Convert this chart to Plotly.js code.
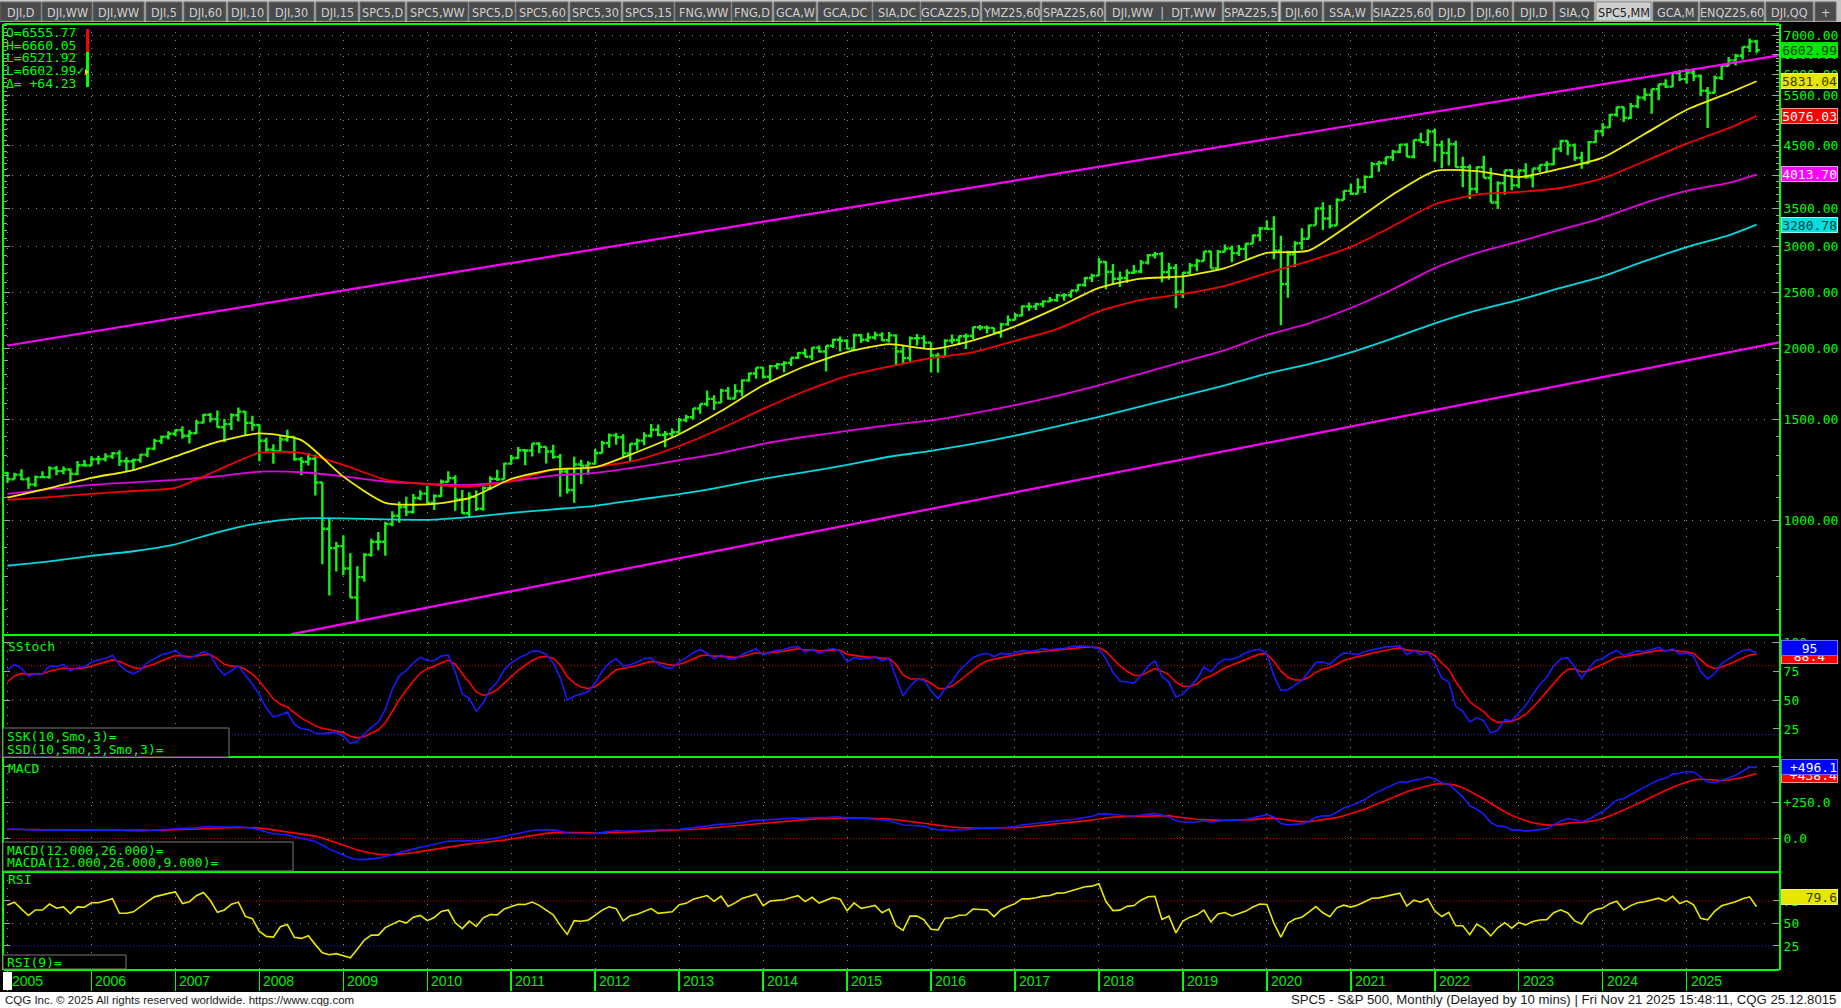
<!DOCTYPE html>
<html><head><meta charset="utf-8">
<script src="https://cdn.plot.ly/plotly-3.0.1.min.js"></script>
<style>html,body{margin:0;padding:0;background:#000;overflow:hidden}#chart{width:1841px;height:1008px}</style>
</head><body><div id="chart"></div>
<script>
// ---------------- DATA: S&P 500 monthly, Jan 2005 .. Nov 2025 ----------------
const OPEN = [
1211.92,1181.27,1203.60,1180.59,1156.85,1191.50,1191.33,1234.18,1220.33,1228.81,1207.01,1249.48,
1248.29,1280.08,1280.66,1294.83,1310.61,1270.09,1270.20,1276.66,1303.82,1335.85,1377.94,1400.63,
1418.30,1438.24,1406.82,1420.86,1482.37,1530.62,1503.35,1455.27,1473.99,1526.75,1549.38,1481.14,
1468.36,1378.55,1330.63,1322.70,1385.59,1400.38,1280.00,1267.38,1282.83,1166.36,968.75,896.24,
903.25,825.88,735.09,797.87,872.81,919.14,919.32,987.48,1020.62,1057.08,1036.19,1095.63,
1115.10,1073.87,1104.49,1169.43,1186.69,1089.41,1030.71,1101.60,1049.33,1141.20,1183.26,1180.55,
1257.64,1286.12,1327.22,1325.83,1363.61,1345.20,1320.64,1292.28,1218.89,1131.42,1253.30,1246.96,
1257.60,1312.41,1365.68,1408.47,1397.91,1310.33,1362.16,1379.32,1406.58,1440.67,1412.16,1416.18,
1426.19,1498.11,1514.68,1569.19,1597.57,1630.74,1606.28,1685.73,1632.97,1681.55,1756.54,1805.81,
1848.36,1782.59,1859.45,1872.34,1883.95,1923.57,1960.23,1930.67,2003.37,1972.29,2018.05,2067.56,
2058.90,1994.99,2104.50,2067.89,2085.51,2107.39,2063.11,2103.84,1972.18,1920.03,2079.36,2080.41,
2043.94,1940.24,1932.23,2059.74,2065.30,2096.95,2098.86,2173.60,2170.95,2168.27,2126.15,2198.81,
2238.83,2278.87,2363.64,2362.72,2384.20,2411.80,2423.41,2470.30,2471.65,2519.36,2575.26,2647.58,
2673.61,2823.81,2713.83,2640.87,2648.05,2705.27,2718.37,2816.29,2901.52,2913.98,2711.74,2760.17,
2506.85,2704.10,2784.49,2834.40,2945.83,2752.06,2941.76,2980.38,2926.46,2976.74,3037.56,3140.98,
3230.78,3225.52,2954.22,2584.59,2912.43,3044.31,3100.29,3271.12,3500.31,3363.00,3269.96,3621.63,
3756.07,3714.24,3811.15,3972.89,4181.17,4204.11,4297.50,4395.26,4522.68,4307.54,4605.38,4567.00,
4766.18,4515.55,4373.94,4530.41,4131.93,4132.15,3785.38,4130.29,3955.00,3585.62,3871.98,4080.11,
3839.50,4076.60,3970.15,4109.31,4169.48,4179.83,4450.38,4588.96,4507.66,4288.05,4193.80,4567.80,
4769.83,4845.65,5096.27,5254.35,5035.69,5277.51,5460.48,5522.30,5648.40,5762.48,5705.45,6032.38,
5881.63,6040.53,5954.50,5611.85,5569.06,5911.69,6204.95,6339.39,6460.26,6688.46,6840.20];
const HIGH = [
1217.80,1212.40,1229.11,1192.16,1199.56,1219.59,1245.15,1245.86,1243.13,1233.34,1270.64,1275.80,
1294.90,1297.57,1310.88,1318.16,1326.70,1290.68,1283.42,1307.36,1340.28,1389.45,1407.89,1431.81,
1441.61,1461.57,1438.89,1498.02,1535.56,1540.56,1555.90,1503.89,1538.74,1576.09,1552.76,1523.57,
1471.77,1396.02,1359.68,1404.57,1440.24,1404.05,1292.17,1313.15,1303.04,1167.03,1007.51,918.85,
943.85,877.86,832.98,877.96,930.17,956.23,996.68,1039.47,1080.15,1101.36,1113.69,1130.38,
1150.45,1112.42,1180.16,1219.80,1200.00,1131.23,1120.95,1129.24,1148.90,1196.14,1227.08,1262.60,
1302.67,1344.07,1332.28,1364.56,1370.58,1345.20,1356.48,1307.38,1229.29,1292.66,1277.55,1269.37,
1333.47,1378.04,1419.15,1422.38,1415.32,1363.46,1391.74,1426.68,1474.51,1470.96,1434.27,1448.00,
1509.94,1530.94,1570.28,1597.57,1687.18,1654.19,1698.78,1709.67,1729.86,1765.00,1813.55,1849.44,
1850.84,1867.92,1883.97,1897.28,1924.03,1968.17,1991.39,2005.04,2019.26,2018.19,2075.76,2093.55,
2072.36,2119.59,2117.52,2125.92,2134.72,2129.87,2132.82,2112.66,2020.86,2094.32,2116.48,2104.27,
2043.94,1962.96,2072.21,2111.05,2103.48,2120.55,2177.09,2193.81,2187.87,2169.60,2214.10,2277.53,
2300.99,2371.54,2400.98,2398.16,2418.71,2453.82,2484.04,2490.87,2519.44,2582.98,2657.74,2694.97,
2872.87,2835.96,2801.90,2717.49,2742.24,2791.47,2848.03,2916.50,2940.91,2939.86,2815.15,2800.18,
2708.95,2813.49,2860.31,2949.52,2954.13,2964.15,3027.98,3013.59,3021.99,3050.10,3154.26,3247.93,
3337.77,3393.52,3136.72,2954.86,3068.67,3233.13,3279.99,3514.77,3588.11,3549.85,3645.99,3760.20,
3870.90,3950.43,3994.41,4218.78,4238.04,4302.43,4429.97,4537.36,4545.85,4608.08,4743.83,4808.93,
4818.62,4595.31,4637.30,4593.45,4307.66,4177.51,4140.15,4325.28,4119.28,3905.42,4080.11,4100.96,
4094.21,4195.44,4110.75,4170.06,4231.10,4458.48,4607.07,4588.96,4541.25,4393.57,4587.64,4793.30,
4931.09,5111.06,5264.85,5263.95,5341.88,5505.53,5669.67,5651.62,5767.37,5878.46,6044.17,6099.97,
6128.18,6147.43,5986.09,5695.31,5968.61,6215.08,6427.02,6508.23,6699.52,6920.34,6890.00];
const LOW = [
1163.75,1180.95,1176.92,1136.15,1146.18,1188.78,1183.55,1201.07,1205.35,1168.20,1201.07,1246.59,
1245.74,1253.61,1268.42,1280.74,1245.34,1219.29,1224.54,1262.79,1290.93,1327.10,1360.98,1385.93,
1403.97,1389.10,1363.98,1416.37,1476.70,1484.18,1454.25,1370.60,1439.29,1489.56,1406.10,1435.65,
1270.05,1316.75,1256.98,1320.00,1373.07,1272.00,1200.44,1248.64,1106.39,839.80,741.02,815.69,
804.30,734.52,666.79,783.32,866.10,888.86,869.32,978.51,991.97,1019.95,1029.38,1085.89,
1071.59,1044.50,1101.36,1166.74,1040.78,1028.33,1010.91,1039.70,1041.07,1131.87,1173.00,1180.55,
1257.62,1282.86,1249.05,1294.70,1311.80,1258.07,1282.86,1101.54,1114.22,1074.77,1158.66,1202.37,
1257.60,1312.41,1340.03,1357.38,1291.98,1266.74,1325.41,1354.65,1396.56,1403.28,1343.35,1398.11,
1426.19,1485.01,1501.48,1536.03,1581.28,1560.33,1604.57,1627.47,1632.97,1646.47,1746.20,1767.99,
1770.45,1737.92,1834.44,1814.36,1859.79,1915.98,1930.67,1904.78,1964.04,1820.66,2001.01,1972.56,
1988.12,1980.90,2039.69,2048.38,2067.93,2056.32,2044.02,1867.01,1871.91,1893.70,2019.39,1993.26,
1812.29,1810.10,1931.81,2033.80,2025.91,1991.68,2074.02,2147.58,2119.12,2114.72,2083.79,2187.44,
2233.62,2271.65,2322.25,2328.95,2352.72,2405.70,2407.70,2417.35,2446.55,2519.36,2557.45,2605.52,
2673.61,2532.69,2585.89,2553.80,2594.62,2691.99,2698.95,2796.34,2864.12,2603.54,2631.09,2346.58,
2443.96,2681.83,2722.27,2834.40,2750.52,2728.81,2941.76,2822.12,2891.85,2855.94,3037.56,3070.33,
3214.64,2855.84,2191.86,2447.49,2766.64,2965.66,3100.29,3271.12,3209.45,3233.94,3269.96,3621.63,
3694.12,3714.24,3723.34,3955.50,4056.88,4164.40,4233.13,4367.73,4305.91,4278.94,4560.00,4495.12,
4222.62,4114.65,4157.87,4124.28,3810.32,3636.87,3721.56,3954.53,3584.13,3491.58,3698.15,3764.49,
3794.33,3943.08,3808.86,4049.35,4048.28,4166.15,4385.05,4335.31,4238.63,4103.78,4193.80,4546.50,
4682.11,4845.65,5056.82,4953.56,5011.05,5234.32,5390.95,5119.26,5402.62,5674.00,5696.51,5832.30,
5773.31,5837.66,5488.73,4835.04,5558.52,5861.43,6201.49,6212.69,6360.58,6550.78,6521.92];
const CLOSE = [
1181.27,1203.60,1180.59,1156.85,1191.50,1191.33,1234.18,1220.33,1228.81,1207.01,1249.48,1248.29,
1280.08,1280.66,1294.83,1310.61,1270.09,1270.20,1276.66,1303.82,1335.85,1377.94,1400.63,1418.30,
1438.24,1406.82,1420.86,1482.37,1530.62,1503.35,1455.27,1473.99,1526.75,1549.38,1481.14,1468.36,
1378.55,1330.63,1322.70,1385.59,1400.38,1280.00,1267.38,1282.83,1166.36,968.75,896.24,903.25,
825.88,735.09,797.87,872.81,919.14,919.32,987.48,1020.62,1057.08,1036.19,1095.63,1115.10,
1073.87,1104.49,1169.43,1186.69,1089.41,1030.71,1101.60,1049.33,1141.20,1183.26,1180.55,1257.64,
1286.12,1327.22,1325.83,1363.61,1345.20,1320.64,1292.28,1218.89,1131.42,1253.30,1246.96,1257.60,
1312.41,1365.68,1408.47,1397.91,1310.33,1362.16,1379.32,1406.58,1440.67,1412.16,1416.18,1426.19,
1498.11,1514.68,1569.19,1597.57,1630.74,1606.28,1685.73,1632.97,1681.55,1756.54,1805.81,1848.36,
1782.59,1859.45,1872.34,1883.95,1923.57,1960.23,1930.67,2003.37,1972.29,2018.05,2067.56,2058.90,
1994.99,2104.50,2067.89,2085.51,2107.39,2063.11,2103.84,1972.18,1920.03,2079.36,2080.41,2043.94,
1940.24,1932.23,2059.74,2065.30,2096.95,2098.86,2173.60,2170.95,2168.27,2126.15,2198.81,2238.83,
2278.87,2363.64,2362.72,2384.20,2411.80,2423.41,2470.30,2471.65,2519.36,2575.26,2647.58,2673.61,
2823.81,2713.83,2640.87,2648.05,2705.27,2718.37,2816.29,2901.52,2913.98,2711.74,2760.17,2506.85,
2704.10,2784.49,2834.40,2945.83,2752.06,2941.76,2980.38,2926.46,2976.74,3037.56,3140.98,3230.78,
3225.52,2954.22,2584.59,2912.43,3044.31,3100.29,3271.12,3500.31,3363.00,3269.96,3621.63,3756.07,
3714.24,3811.15,3972.89,4181.17,4204.11,4297.50,4395.26,4522.68,4307.54,4605.38,4567.00,4766.18,
4515.55,4373.94,4530.41,4131.93,4132.15,3785.38,4130.29,3955.00,3585.62,3871.98,4080.11,3839.50,
4076.60,3970.15,4109.31,4169.48,4179.83,4450.38,4588.96,4507.66,4288.05,4193.80,4567.80,4769.83,
4845.65,5096.27,5254.35,5035.69,5277.51,5460.48,5522.30,5648.40,5762.48,5705.45,6032.38,5881.63,
6040.53,5954.50,5611.85,5569.06,5911.69,6204.95,6339.39,6460.26,6688.46,6840.20,6602.99];

// warm-up history (not drawn) used only to seed the indicators
const PRE_CLOSE = [855.70,841.15,848.18,916.92,963.59,974.50,990.31,1008.01,995.97,1050.71,1058.20,1111.92,
1131.13,1144.94,1126.21,1107.30,1120.68,1140.84,1101.72,1104.24,1114.58,1130.20,1173.82,1211.92];
const PRE_HIGH = [1155.38,1158.98,1163.23,1150.57,1127.74,1146.34,1140.84,1109.68,1131.54,1142.05,1188.46,1217.33];
const PRE_LOW  = [1122.38,1124.44,1087.16,1107.23,1076.32,1113.32,1078.78,1060.72,1101.29,1090.19,1127.60,1173.82];

// moving averages (month index from Jan 2005)
const MA_IDX = [0,6,12,18,24,30,36,42,48,54,60,66,72,78,84,90,96,102,108,114,120,126,132,138,144,150,156,162,168,174,180,186,192,198,204,210,216,222,228,234,240,246,250];
const MA_YELLOW = [1097,1140,1188,1226,1295,1372,1420,1382,1194,1075,1068,1095,1183,1228,1240,1318,1415,1553,1722,1859,1967,2031,1992,2063,2182,2349,2545,2641,2665,2756,2929,2957,3291,3702,4067,4067,3969,4105,4292,4720,5200,5560,5831.04];
const MA_RED    = [1088,1100,1114,1127,1141,1225,1313,1313,1251,1180,1158,1146,1172,1228,1241,1276,1350,1448,1567,1683,1787,1856,1920,1965,2058,2158,2317,2425,2484,2567,2701,2833,3000,3260,3560,3700,3740,3800,3950,4230,4540,4830,5076.03];
const MA_MAGENTA= [1114,1135,1155,1167,1178,1195,1218,1215,1195,1170,1160,1155,1172,1199,1212,1240,1275,1312,1362,1401,1434,1468,1496,1539,1590,1651,1722,1805,1892,1983,2107,2208,2348,2532,2755,2929,3065,3215,3372,3580,3757,3878,4013.70];
const MA_CYAN   = [835,850,869,885,910,955,991,1010,1010,1006,1004,1015,1032,1047,1062,1088,1113,1145,1183,1216,1251,1293,1324,1362,1407,1461,1517,1583,1651,1722,1805,1874,1965,2079,2208,2326,2425,2545,2666,2833,2997,3142,3280.78];

// channel trend lines (month index, price)
const CH_UPPER_X = [0, 253.4], CH_UPPER_Y = [2020, 6474];
const CH_LOWER_X = [40.5, 253.4], CH_LOWER_Y = [634, 2047];

// last values printed in the right-hand boxes of the indicator panels
const SSTOCH_LAST = [95, 88.4];      // SSK, SSD
const MACD_LAST   = [496.1, 438.4];  // MACD, MACDA
const RSI_LAST    = [79.6];

const YEAR_LABELS = ['2005','2006','2007','2008','2009','2010','2011','2012','2013','2014','2015','2016','2017','2018','2019','2020','2021','2022','2023','2024','2025'];
const PRICE_TICKS = [1000,1500,2000,2500,3000,3500,4000,4500,5000,5500,6000,6500,7000];
const HEADER_LINES = ['O=6555.77','H=6660.05','L=6521.92','L=6602.99\u2713','\u0394= +64.23'];
const TAB_LABELS = ['DJI,D','DJI,WW','DJI,WW','DJI,5','DJI,60','DJI,10','DJI,30','DJI,15','SPC5,D','SPC5,WW','SPC5,D','SPC5,60','SPC5,30','SPC5,15','FNG,WW','FNG,D','GCA,W','GCA,DC','SIA,DC','GCAZ25,D','YMZ25,60','SPAZ25,60','DJI,WW  |  DJT,WW','SPAZ25,5','DJI,60','SSA,W','SIAZ25,60','DJI,D','DJI,60','DJI,D','SIA,Q','SPC5,MM','GCA,M','ENQZ25,60','DJI,QQ','+'];
const FOOT_LEFT = 'CQG Inc. \u00a9 2025 All rights reserved worldwide. https://www.cqg.com';
const FOOT_RIGHT = 'SPC5 - S&P 500, Monthly (Delayed by 10 mins) | Fri Nov 21 2025 15:48:11, CQG 25.12.8015';

// ---------------- layout geometry (pixels) ----------------
const TAB_EDGES = [[0,41],[42,92],[93,144],[146,182],[184,226],[228,267],[269,314],[316,358],[360,405],[407,468],[469,515],[516,568],[570,621],[623,674],[675,731],[732,772],[774,816],[818,872],[873,920],[921,980],[982,1040],[1042,1104],[1106,1222],[1224,1278],[1281,1322],[1324,1371],[1373,1431],[1433,1471],[1473,1512],[1514,1553],[1555,1594],[1596,1651],[1653,1698],[1700,1764],[1766,1813],[1815,1836]];
const ACTIVE_TAB = 31;
const Lp=4, Rp=1779, Tp=24, Bp=970, Wp=Rp-Lp, Hp=Bp-Tp;
const px = x => (x-Lp)/Wp, py = y => (Bp-y)/Hp;
const GREEN='#00ff00', MONO='DejaVu Sans Mono, monospace';

// ---------------- indicators computed from the price arrays ----------------
const idx = CLOSE.map((_,i)=>i);
function ema(a,n){const k=2/(n+1);const o=[a[0]];for(let i=1;i<a.length;i++)o.push(o[i-1]+k*(a[i]-o[i-1]));return o;}
function smo(a,n){const o=[a[0]];for(let i=1;i<a.length;i++)o.push(o[i-1]+(a[i]-o[i-1])/n);return o;}
const cAll = PRE_CLOSE.concat(CLOSE), np = PRE_CLOSE.length;
const e12 = ema(cAll,12), e26 = ema(cAll,26);
const macdAll = cAll.map((_,i)=>e12[i]-e26[i]);
const sigAll = ema(macdAll,9);
const MACD = macdAll.slice(np), MACDA = sigAll.slice(np);
function rsi(a,n){const o=new Array(a.length).fill(null);let g=0,l=0;
  for(let i=1;i<=n;i++){const d=a[i]-a[i-1];if(d>0)g+=d;else l-=d;}g/=n;l/=n;o[n]=100-100/(1+g/l);
  for(let i=n+1;i<a.length;i++){const d=a[i]-a[i-1];g=(g*(n-1)+Math.max(d,0))/n;l=(l*(n-1)+Math.max(-d,0))/n;o[i]=l===0?100:100-100/(1+g/l);}return o;}
const RSI = rsi(cAll,9).slice(np);
const hA = PRE_HIGH.concat(HIGH), lA = PRE_LOW.concat(LOW), csA = PRE_CLOSE.slice(12).concat(CLOSE);
const fastK = csA.map((c,i)=>{let hh=-1e9,ll=1e9;for(let j=Math.max(0,i-9);j<=i;j++){hh=Math.max(hh,hA[j]);ll=Math.min(ll,lA[j]);}return 100*(c-ll)/(hh-ll);});
const SSKall = smo(fastK,3), SSDall = smo(SSKall,3);
const SSK = SSKall.slice(12), SSD = SSDall.slice(12);

// ---------------- traces ----------------
const traces = [
 {type:'ohlc', x:idx, open:OPEN, high:HIGH, low:LOW, close:CLOSE, xaxis:'x', yaxis:'y',
  increasing:{line:{color:'#18f018',width:2.4}}, decreasing:{line:{color:'#18f018',width:2.4}}, tickwidth:0.45, hoverinfo:'skip'},
 {type:'scatter', mode:'lines', x:CH_UPPER_X, y:CH_UPPER_Y, line:{color:'#ff00ff',width:2.2}, yaxis:'y', hoverinfo:'skip'},
 {type:'scatter', mode:'lines', x:CH_LOWER_X, y:CH_LOWER_Y, line:{color:'#ff00ff',width:2.2}, yaxis:'y', hoverinfo:'skip'},
 {type:'scatter', mode:'lines', x:MA_IDX, y:MA_CYAN, line:{color:'#00d8e0',width:1.8,shape:'spline',smoothing:0.6}, yaxis:'y', hoverinfo:'skip'},
 {type:'scatter', mode:'lines', x:MA_IDX, y:MA_MAGENTA, line:{color:'#e000e0',width:1.8,shape:'spline',smoothing:0.6}, yaxis:'y', hoverinfo:'skip'},
 {type:'scatter', mode:'lines', x:MA_IDX, y:MA_RED, line:{color:'#f00000',width:1.8,shape:'spline',smoothing:0.6}, yaxis:'y', hoverinfo:'skip'},
 {type:'scatter', mode:'lines', x:MA_IDX, y:MA_YELLOW, line:{color:'#f0f000',width:1.8,shape:'spline',smoothing:0.6}, yaxis:'y', hoverinfo:'skip'},
 {type:'scatter', mode:'lines', x:idx, y:SSD, line:{color:'#ff0000',width:1.6}, yaxis:'y2', hoverinfo:'skip'},
 {type:'scatter', mode:'lines', x:idx, y:SSK, line:{color:'#1a1aff',width:1.6}, yaxis:'y2', hoverinfo:'skip'},
 {type:'scatter', mode:'lines', x:idx, y:MACDA, line:{color:'#ff0000',width:1.6}, yaxis:'y3', hoverinfo:'skip'},
 {type:'scatter', mode:'lines', x:idx, y:MACD, line:{color:'#1a1aff',width:1.6}, yaxis:'y3', hoverinfo:'skip'},
 {type:'scatter', mode:'lines', x:idx, y:RSI, line:{color:'#e8e800',width:1.6}, yaxis:'y4', hoverinfo:'skip'}
];

// ---------------- axes ----------------
const minorVals=[]; for(let v=700; v<=7300; v+=100){ if(v%500) minorVals.push(v); }
function yax(domain, range, tickvals, ticktext, extra){
  return Object.assign({domain, range, side:'right', tickvals, ticktext, tickfont:{family:MONO,size:13,color:GREEN},
    showgrid:false, zeroline:false, ticks:'inside', ticklen:6, tickcolor:'#a0a0a0', tickwidth:1,
    showline:true, linecolor:GREEN, linewidth:2, mirror:'ticks', fixedrange:true}, extra||{});
}
const layout = {
  width:1841, height:1008, paper_bgcolor:'#000', plot_bgcolor:'#000', showlegend:false,
  margin:{l:Lp, r:1841-Rp, t:Tp, b:1008-Bp, pad:0},
  xaxis:{domain:[0,1], range:[-0.5,253.2], anchor:'y4', tickvals:YEAR_LABELS.map((_,k)=>12*k), showticklabels:false,
    rangeslider:{visible:false},
    ticks:'outside', ticklen:20, tickcolor:GREEN, tickwidth:1.5, showgrid:true, gridcolor:'#8c8c8c', griddash:'1px,7px', gridwidth:1,
    zeroline:false, showline:false, fixedrange:true},
  yaxis: yax([py(635),1], [Math.log10(632.5), Math.log10(7336)], PRICE_TICKS, PRICE_TICKS.map(v=>v.toFixed(2)),
    {type:'log', showgrid:true, gridcolor:'#8c8c8c', griddash:'1px,7px', gridwidth:1,
     minor:{tickvals:minorVals, ticks:'inside', ticklen:3, tickcolor:'#a0a0a0', showgrid:false}}),
  yaxis2: yax([py(757),py(635)], [0.6,106.7], [25,50,75,100], ['25','50','75','100'], {anchor:'x'}),
  yaxis3: yax([py(872),py(757)], [-232.6,566], [0,250,500], ['0.0','+250.0','+500.0'], {anchor:'x'}),
  yaxis4: yax([0,py(872)], [-1.67,107.2], [25,50,75], ['25','50','75'], {anchor:'x'}),
  shapes:[], annotations:[]
};
const S = layout.shapes, A = layout.annotations;

// level lines in indicator panels
function hline(yref, v, color, dash){ S.push({type:'line', xref:'paper', x0:0, x1:1, yref, y0:v, y1:v, line:{color, width:1, dash}, layer:'below'}); }
hline('y2',100,'#8c8c8c','1px,7px'); hline('y2',50,'#8c8c8c','1px,7px'); hline('y2',80,'#d00000','1px,2px'); hline('y2',20,'#2020ff','1px,2px');
hline('y3',500,'#8c8c8c','1px,7px'); hline('y3',250,'#8c8c8c','1px,7px'); hline('y3',0,'#d00000','1px,2px');
hline('y4',50,'#8c8c8c','1px,7px'); hline('y4',75,'#d00000','1px,2px'); hline('y4',25,'#2020ff','1px,2px');

// panel separators
[Tp,635,757,872,Bp].forEach(y=>S.push({type:'line', xref:'paper', yref:'paper', x0:0, x1:1, y0:py(y), y1:py(y), line:{color:GREEN,width:2}}));

// legend boxes in panels
function box(x0,y0,x1,y1){ S.push({type:'rect', xref:'paper', yref:'paper', x0:px(x0), x1:px(x1), y0:py(y0), y1:py(y1), line:{color:'#7a7a7a',width:1}, fillcolor:'#000', layer:'above'}); }
function txt(x,y,t,opts){ A.push(Object.assign({xref:'paper', yref:'paper', x:px(x), y:py(y), text:t, showarrow:false, xanchor:'left', yanchor:'middle', font:{family:MONO,size:13,color:GREEN}}, opts||{})); }
box(3,728,229,757); txt(5,736,'SSK(10,Smo,3)='); txt(5,749,'SSD(10,Smo,3,Smo,3)=');
box(3,842,293,871); txt(5,850,'MACD(12.000,26.000)='); txt(5,862.5,'MACDA(12.000,26.000,9.000)=');
box(3,955,126,969); txt(5,962,'RSI(9)=');
txt(6,646,'SStoch'); txt(6,768,'MACD'); txt(6,879,'RSI');

// header block
HEADER_LINES.forEach((t,i)=>txt(4,[32.5,45.2,58,70.8,83.5][i],t));
S.push({type:'rect', xref:'paper', yref:'paper', x0:px(86), x1:px(89), y0:py(29), y1:py(52), line:{width:0}, fillcolor:'#ff0000'});
S.push({type:'rect', xref:'paper', yref:'paper', x0:px(86), x1:px(89), y0:py(52), y1:py(87), line:{width:0}, fillcolor:'#00ff00'});
S.push({type:'path', xref:'paper', yref:'paper', path:`M${px(85)},${py(69)} L${px(89)},${py(72)} L${px(85)},${py(75)} Z`, line:{width:0}, fillcolor:'#ffd800'});

// right-hand value boxes
function vbox(yref, yv, t, bg, fg, border, align){
  A.push({xref:'paper', x:1, xanchor:'left', xshift:2, yref, y:yv, yanchor:'middle', text:t, showarrow:false,
    width:55, height:14, align:align||'right', bgcolor:bg, bordercolor:border, borderwidth:1, borderpad:0,
    font:{family:MONO, size:13, color:fg}});
}
const lg = v => Math.log10(v);
const last = a => a[a.length-1];
vbox('y', lg(last(CLOSE)), last(CLOSE).toFixed(2), '#00e800', '#004400', '#00e800');
vbox('y', lg(last(MA_YELLOW)), last(MA_YELLOW).toFixed(2), '#e6e600', '#3a3a00', '#f0f070');
vbox('y', lg(last(MA_RED)), last(MA_RED).toFixed(2), '#ff0000', '#ffffff', '#ff9090');
vbox('y', lg(last(MA_MAGENTA)), last(MA_MAGENTA).toFixed(2), '#ff00ff', '#ffffff', '#ff90ff');
vbox('y', lg(last(MA_CYAN)), last(MA_CYAN).toFixed(2), '#00dede', '#003838', '#80ffff');
vbox('y2', SSTOCH_LAST[1], SSTOCH_LAST[1].toFixed(1), '#ff0000', '#ffffff', '#ff9090', 'center');
vbox('y2', SSTOCH_LAST[0], SSTOCH_LAST[0].toString(), '#0000ff', '#ffffff', '#7070ff', 'center');
vbox('y3', MACD_LAST[1], '+'+MACD_LAST[1].toFixed(1), '#ff0000', '#ffffff', '#ff9090');
vbox('y3', MACD_LAST[0], '+'+MACD_LAST[0].toFixed(1), '#0000ff', '#ffffff', '#7070ff');
vbox('y4', RSI_LAST[0], RSI_LAST[0].toFixed(1), '#e6e600', '#3a3a00', '#f0f070');

// year labels in the bottom strip
YEAR_LABELS.forEach((t,k)=>A.push({xref:'x', x:12*k, xanchor:'left', xshift:2, yref:'paper', y:py(981), yanchor:'middle', text:t, showarrow:false,
  font:{family:'Liberation Sans, Arial, sans-serif', size:14, color:'#00ee00'}}));
S.push({type:'rect', xref:'paper', yref:'paper', x0:px(3), x1:px(12), y0:py(972), y1:py(990), line:{width:0}, fillcolor:'#ffffff'});

// status bar
S.push({type:'rect', xref:'paper', yref:'paper', x0:px(0), x1:px(1841), y0:py(992), y1:py(1008), line:{width:0}, fillcolor:'#ffffff'});
A.push({xref:'paper', yref:'paper', x:px(3), y:py(1000), xanchor:'left', yanchor:'middle', text:FOOT_LEFT, showarrow:false, font:{family:'Liberation Sans, Arial, sans-serif', size:11.5, color:'#1a1a1a'}});
A.push({xref:'paper', yref:'paper', x:px(1838), y:py(1000), xanchor:'right', yanchor:'middle', text:FOOT_RIGHT, showarrow:false, font:{family:'Liberation Sans, Arial, sans-serif', size:13.2, color:'#1a1a1a'}});

// tab bar
S.push({type:'rect', xref:'paper', yref:'paper', x0:px(0), x1:px(1841), y0:py(0), y1:py(22), line:{width:0}, fillcolor:'#c4c4c4'});
TAB_LABELS.forEach((t,i)=>{
  const [a,b] = TAB_EDGES[i], act = i===ACTIVE_TAB;
  S.push({type:'rect', xref:'paper', yref:'paper', x0:px(a), x1:px(b), y0:py(2), y1:py(21), line:{color: act?'#8a8a8a':'#6c6c6c', width:1}, fillcolor: act?'#cfcfcf':'#4a4a4a'});
  A.push({xref:'paper', yref:'paper', x:px((a+b)/2), y:py(12), xanchor:'center', yanchor:'middle', text:t, showarrow:false,
    font:{family:'Liberation Sans Narrow, DejaVu Sans Condensed, sans-serif', size:12.5, color: act?'#222222':'#cfcfcf'}});
});

Plotly.newPlot('chart', traces, layout, {staticPlot:true, displayModeBar:false});
</script></body></html>
